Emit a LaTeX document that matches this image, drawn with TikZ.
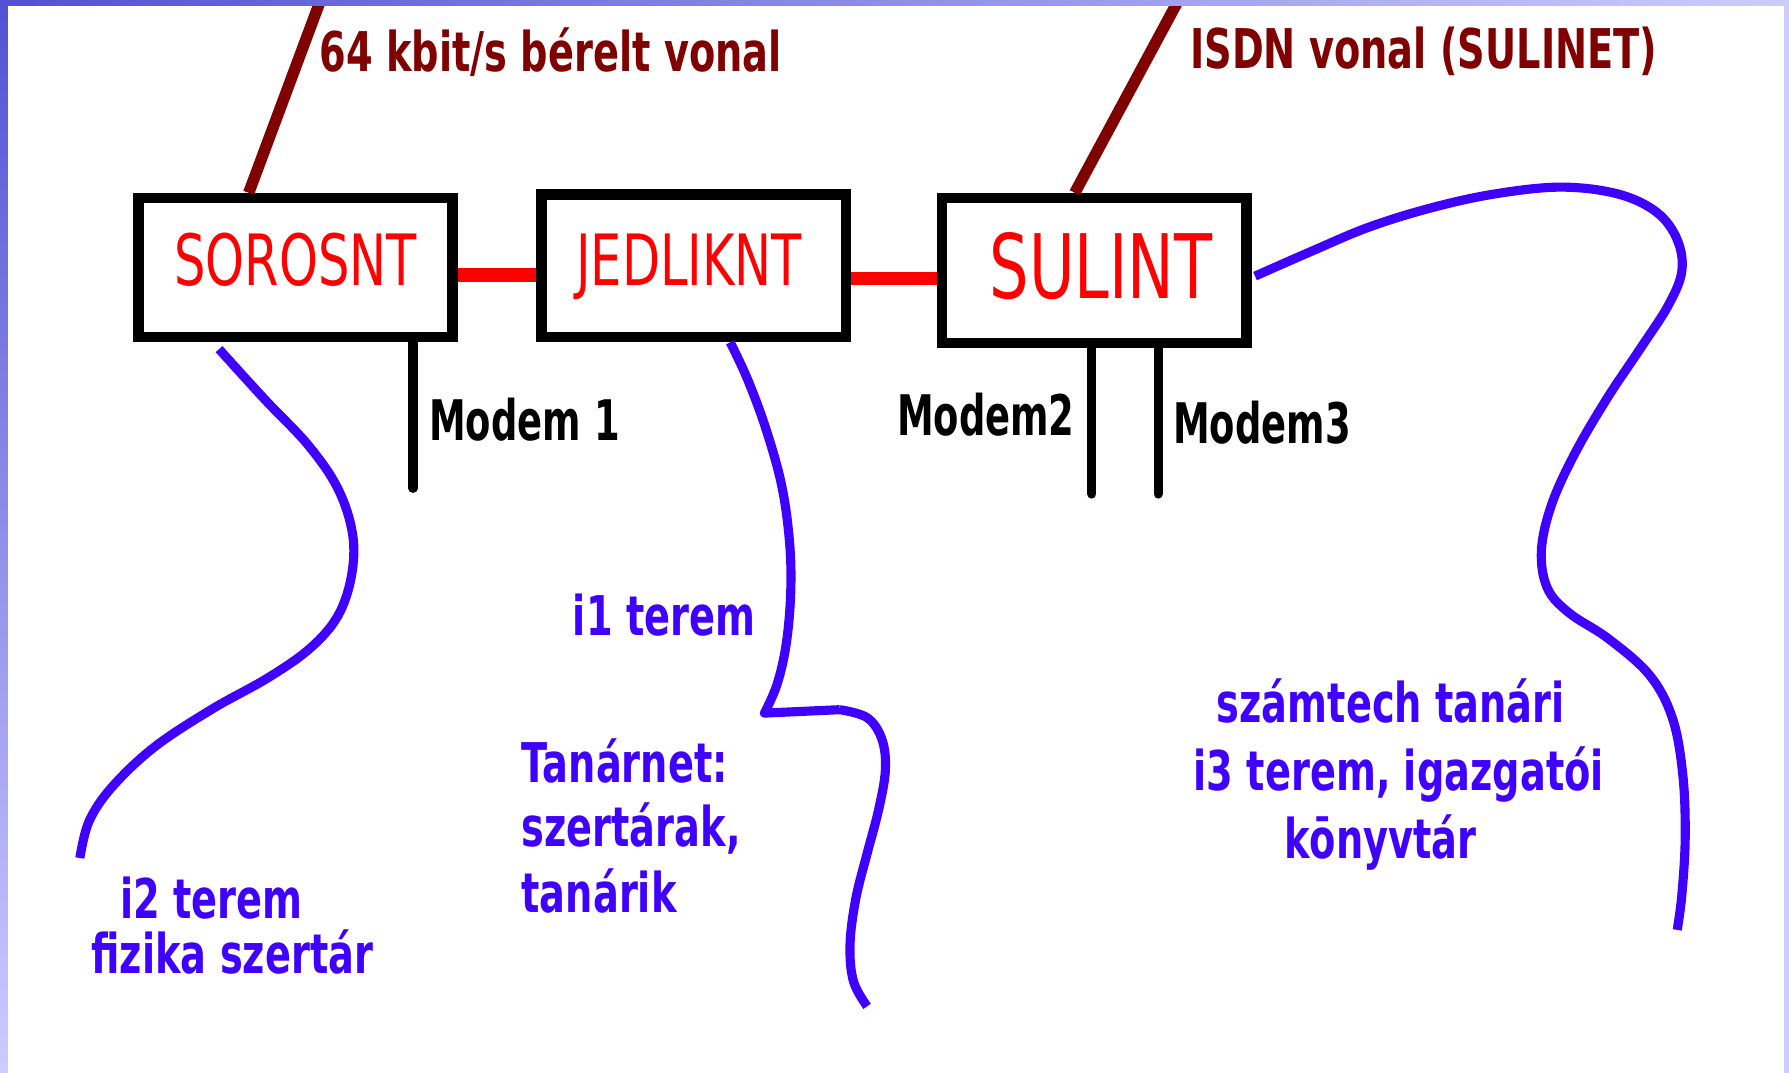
\documentclass[tikz,border=0pt]{standalone}
\usepackage{fontspec}
\newfontfamily\thinfont[FakeStretch=0.7]{DejaVu Sans}
\newfontfamily\labfont[FakeStretch=0.7]{DejaVu Sans Bold}
\newfontfamily\modfont[FakeStretch=0.66]{DejaVu Sans Bold}
\definecolor{wireblue}{RGB}{64,0,255}
\definecolor{darkred}{RGB}{128,0,0}
\definecolor{pure}{RGB}{255,0,0}
\definecolor{frameA}{RGB}{82,82,210}
\definecolor{frameB}{RGB}{204,204,255}
\begin{document}
\begin{tikzpicture}[x=1pt,y=-1pt,
  boxst/.style={draw=black, line width=9pt, fill=white, inner sep=0pt, outer sep=4.5pt},
  redlbl/.style={text=pure, inner sep=0pt, anchor=base, font=\thinfont\fontsize{62}{62}\selectfont},
  toplbl/.style={text=darkred, inner sep=0pt, anchor=base west, font=\labfont\fontsize{48}{48}\selectfont},
  modlbl/.style={text=black, inner sep=0pt, anchor=base west, font=\modfont\fontsize{49}{49}\selectfont},
  bluelbl/.style={text=wireblue, inner sep=0pt, font=\labfont\fontsize{48}{48}\selectfont},
  wire/.style={draw=wireblue, line width=8pt, line join=round},
  lease/.style={draw=darkred, line width=10pt},
  link/.style={draw=pure, line width=12pt},
  modemline/.style={draw=black, line width=8pt, line cap=round}]
\useasboundingbox (0,0) rectangle (1568,940);
\fill[white] (0,0) rectangle (1568,940);

% boxes
\node[boxst, minimum width=275pt, minimum height=122pt] (sor) at (259,234.5) {};
\node[boxst, minimum width=267pt, minimum height=125pt] (jed) at (608,233) {};
\node[boxst, minimum width=267pt, minimum height=127pt] (sul) at (959,237) {};
\node[redlbl] (sorl) at (259,250) {SOROSNT};
\node[redlbl] (jedl) at (604,250) {JEDLIKNT};
\node[redlbl, font=\thinfont\fontsize{78}{78}\selectfont] (sull) at (965,262) {SULINT};

% red links
\draw[link] (sor.east |- 0,241) -- (jed.west |- 0,241);
\draw[link] (jed.east |- 0,244) -- (sul.west |- 0,244);

% leased lines
\coordinate (l1) at (281,0);
\coordinate (l2) at (1033,0);
\draw[lease] (218,0 |- sor.north) -- (l1);
\draw[lease] (942,0 |- sul.north) -- (l2);
\node[toplbl] (l1t) at (280,63) {64 kbit/s bérelt vonal};
\node[toplbl] (l2t) at (1043,60) {ISDN vonal (SULINET)};

% modems
\coordinate (m1) at (362,428);
\coordinate (m2) at (957,433);
\coordinate (m3) at (1015,433);
\draw[modemline] (m1 |- sor.south) -- (m1);
\draw[modemline] (m2 |- sul.south) -- (m2);
\draw[modemline] (m3 |- sul.south) -- (m3);
\node[modlbl] (m1t) at (376,386) {Modem 1};
\node[modlbl] (m2t) at (786,382) {Modem2};
\node[modlbl] (m3t) at (1028,389) {Modem3};

% blue wires
\draw[wire] plot[smooth, tension=0.6] coordinates {(192,306) (232,350) (270,390) (296,428) (309,468) (308,505) (296,540) (272,568) (235,594) (185,622) (135,655) (98,690) (78,720) (70,752)};
\draw[wire] plot[smooth, tension=0.6] coordinates {(640,300) (655,332) (671,375) (685,425) (692,475) (693,520) (689,565) (681,600) (670,625)}
  -- (736,622)
  plot[smooth, tension=0.6] coordinates {(736,622) (760,629) (773,648) (776,675) (770,710) (760,748) (750,788) (745,828) (748,860) (760,882)};
\draw[wire] plot[smooth, tension=0.6] coordinates {(1100,242) (1150,220) (1200,199) (1255,182) (1310,170) (1368,164) (1418,170) (1452,186) (1470,210) (1474,238) (1462,268) (1438,305) (1408,350) (1380,398) (1360,442) (1351,482) (1356,515) (1375,537) (1410,560) (1446,592) (1466,630) (1475,680) (1477,735) (1474,785) (1470,815)};

% blue labels
\node[bluelbl, anchor=base west] (i2a) at (105,805) {i2 terem};
\node[bluelbl, anchor=base west] (i2b) at (80,853) {fizika szertár};
\node[bluelbl, anchor=base west] (i1) at (502,557) {i1 terem};
\node[bluelbl, anchor=base west] (tn1) at (457,686) {Tanárnet:};
\node[bluelbl, anchor=base west] (tn2) at (457,742) {szertárak,};
\node[bluelbl, anchor=base west] (tn3) at (457,800) {tanárik};
\node[bluelbl, anchor=base] (i3a) at (1219,633) {számtech tanári};
\node[bluelbl, anchor=base] (i3b) at (1226,693) {i3 terem, igazgatói};
\node[bluelbl, anchor=base] (i3c) at (1210,752) {kōnyvtár};

% frame
\shade[left color=frameA, right color=frameB] (0,0) rectangle (1568,5);
\shade[top color=frameA, bottom color=frameB] (0,0) rectangle (7,940);
\fill[frameB] (1564,0) rectangle (1568,940);
\end{tikzpicture}
\end{document}
